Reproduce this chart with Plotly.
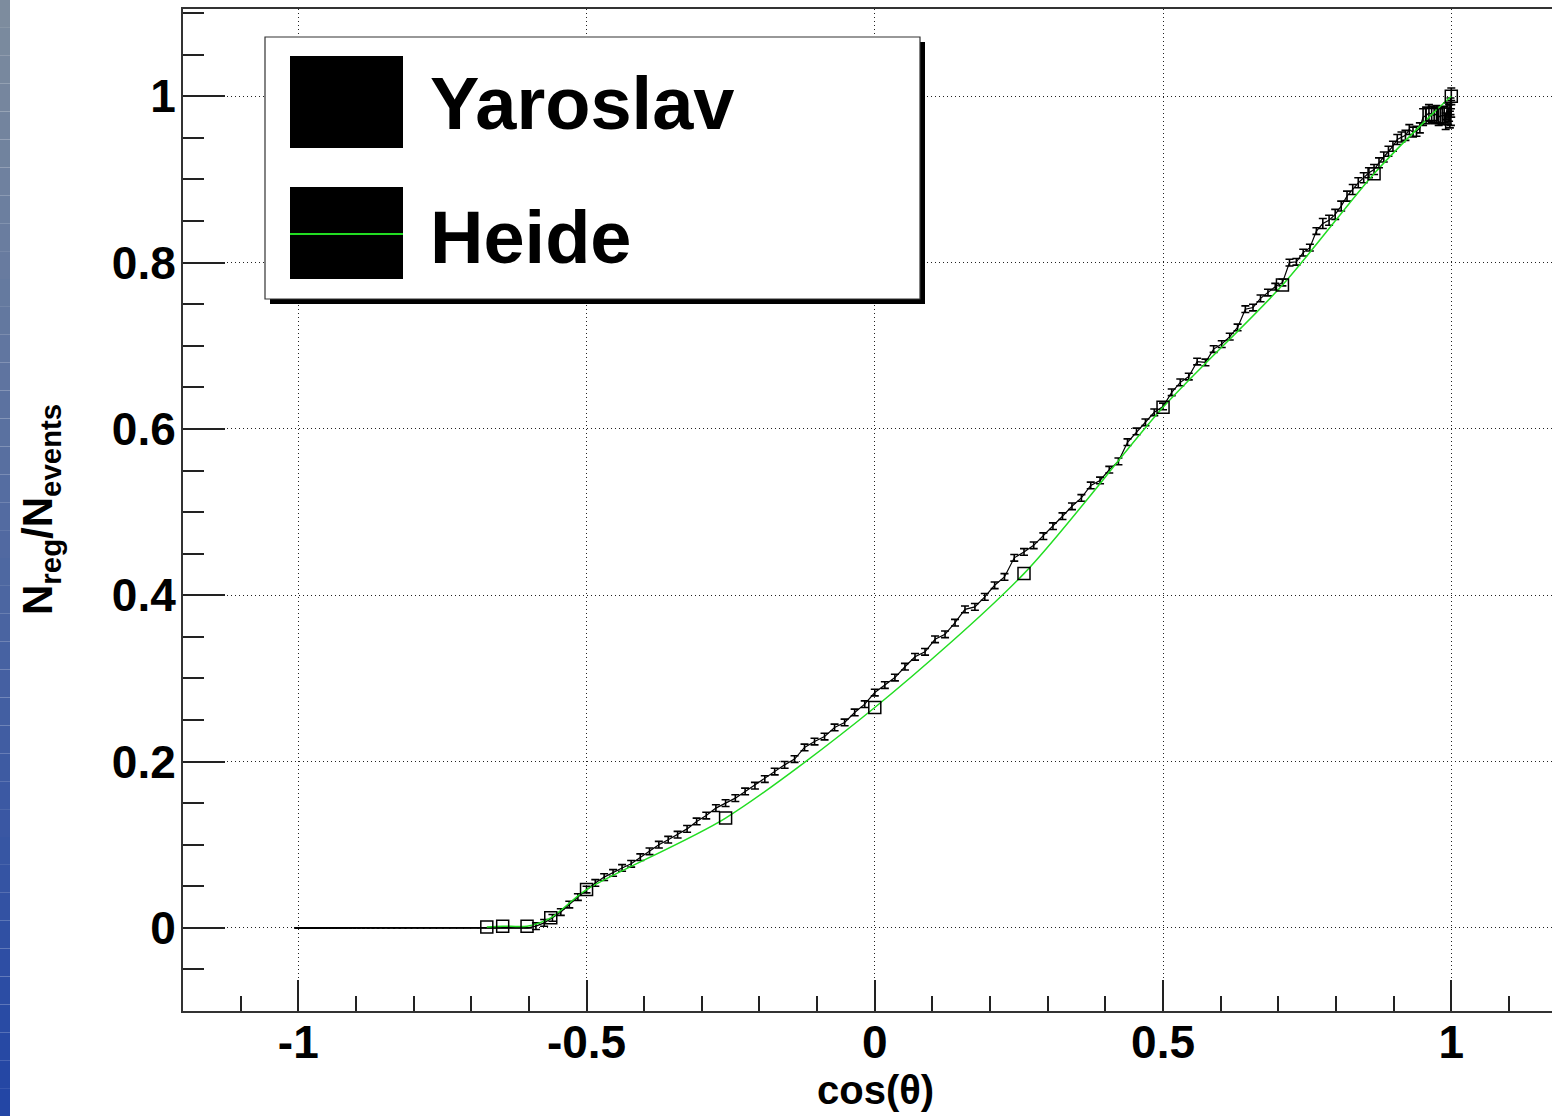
import numpy as np
import plotly.graph_objects as go

# ---------------- data ----------------
# Yaroslav: one point per degree of theta (0..180), y = N_reg/N_events
yar_theta_deg = list(range(0, 181))
yar_vals = [
    1.000, 0.985, 0.975, 0.988, 0.972, 0.980, 0.976, 0.982, 0.970, 0.978,   # 0-9
    0.976, 0.977, 0.975, 0.979, 0.977, 0.978, 0.980, 0.977, 0.975, 0.962,   # 10-19
    0.958, 0.957, 0.960, 0.953, 0.951, 0.948, 0.940, 0.934, 0.927, 0.920,   # 20-29
    0.912, 0.908, 0.902, 0.896, 0.888, 0.880, 0.868, 0.858, 0.851, 0.847,   # 30-39
    0.838, 0.818, 0.812, 0.801, 0.800, 0.776, 0.771, 0.764, 0.757, 0.746,   # 40-49
    0.744, 0.722, 0.711, 0.702, 0.696, 0.680, 0.681, 0.663, 0.656, 0.644,   # 50-59
    0.627, 0.620, 0.608, 0.597, 0.584, 0.561, 0.551, 0.538, 0.532, 0.517,   # 60-69
    0.507, 0.495, 0.483, 0.471, 0.460, 0.452, 0.445, 0.422, 0.412, 0.398,   # 70-79
    0.386, 0.383, 0.367, 0.353, 0.347, 0.332, 0.326, 0.314, 0.301, 0.292,   # 80-89
    0.283, 0.269, 0.259, 0.247, 0.241, 0.230, 0.224, 0.217, 0.203, 0.196,   # 90-99
    0.188, 0.179, 0.171, 0.164, 0.156, 0.150, 0.144, 0.135, 0.128, 0.119,   # 100-109
    0.112, 0.106, 0.100, 0.092, 0.085, 0.077, 0.072, 0.066, 0.061, 0.054,   # 110-119
    0.046, 0.037, 0.028, 0.019, 0.012, 0.006, 0.002,                        # 120-126
] + [0.0] * 54                                                               # 127-180
yar_err = [0.010] * 19 + [0.006] * 21 + [0.004] * 87 + [0.0] * 54

# Heide: sparse points (theta in degrees)
heide_theta_deg = [0, 15, 30, 45, 60, 75, 90, 105, 120, 124.2, 127.1, 130.2, 132.3]
heide_vals = [1.0, 0.978, 0.907, 0.773, 0.626, 0.426, 0.265, 0.132, 0.046, 0.012, 0.002, 0.002, 0.001]

x_tickvals = [-1, -0.5, 0, 0.5, 1]
x_ticktext = ["-1", "-0.5", "0", "0.5", "1"]
y_tickvals = [0, 0.2, 0.4, 0.6, 0.8, 1.0]
y_ticktext = ["0", "0.2", "0.4", "0.6", "0.8", "1"]

legend_names = ["Yaroslav", "Heide"]
x_title = "cos(θ)"
y_title = "N<sub>reg</sub>/N<sub>events</sub>"

yar_x = np.cos(np.radians(yar_theta_deg))
heide_x = np.cos(np.radians(heide_theta_deg))

# ---------------- layout geometry (pixels) ----------------
W, H = 1552, 1116
L, R, T, B = 183, 0, 9, 105
PW, PH = W - L - R, H - T - B

def px(x):
    return (x - L) / PW

def py(y):
    return (H - B - y) / PH

FONT = "Liberation Sans"

fig = go.Figure()

fig.add_trace(go.Scatter(
    x=yar_x, y=yar_vals, mode="lines",
    line=dict(color="black", width=1.2),
    error_y=dict(type="data", array=yar_err, color="black", thickness=1.6, width=4),
    name=legend_names[0], showlegend=False,
))
fig.add_trace(go.Scatter(
    x=heide_x, y=heide_vals, mode="lines",
    line=dict(color="#22dd22", width=1.5, shape="spline", smoothing=0.8),
    name=legend_names[1], showlegend=False,
))
fig.add_trace(go.Scatter(
    x=heide_x, y=heide_vals, mode="markers",
    marker=dict(symbol="square-open", color="black", size=12, line=dict(width=1.5, color="black")),
    showlegend=False, hoverinfo="skip",
))

shapes = []
# left blue gradient strip
nb = 40
for i in range(nb):
    t = i / (nb - 1)
    r = int(125 + (35 - 125) * t)
    g = int(140 + (70 - 140) * t)
    b = int(158 + (165 - 158) * t)
    shapes.append(dict(type="rect", xref="paper", yref="paper",
                       x0=px(0), x1=px(10), y0=py(H * (i + 1) / nb), y1=py(H * i / nb),
                       fillcolor=f"rgb({r},{g},{b})", line=dict(width=0), layer="above"))

# legend: shadow, box, colored squares
shapes.append(dict(type="rect", xref="paper", yref="paper", x0=px(270), x1=px(925), y0=py(304), y1=py(42),
                   fillcolor="black", line=dict(width=0), layer="above"))
shapes.append(dict(type="rect", xref="paper", yref="paper", x0=px(265), x1=px(920), y0=py(299), y1=py(37),
                   fillcolor="white", line=dict(width=1.2, color="#333"), layer="above"))
shapes.append(dict(type="rect", xref="paper", yref="paper", x0=px(290), x1=px(403), y0=py(148), y1=py(56),
                   fillcolor="black", line=dict(width=0), layer="above"))
shapes.append(dict(type="rect", xref="paper", yref="paper", x0=px(290), x1=px(403), y0=py(279), y1=py(187),
                   fillcolor="black", line=dict(width=0), layer="above"))
shapes.append(dict(type="line", xref="paper", yref="paper", x0=px(290), x1=px(403), y0=py(234), y1=py(234),
                   line=dict(width=2, color="#22dd22"), layer="above"))

annotations = [
    dict(text=legend_names[0], xref="paper", yref="paper", x=px(428), y=py(104), xanchor="left", yanchor="middle",
         showarrow=False, font=dict(family=FONT, size=74, color="black", weight="bold")),
    dict(text=legend_names[1], xref="paper", yref="paper", x=px(428), y=py(237), xanchor="left", yanchor="middle",
         showarrow=False, font=dict(family=FONT, size=74, color="black", weight="bold")),
    dict(text=x_title, xref="paper", yref="paper", x=px(875), y=py(1090), xanchor="center", yanchor="middle",
         showarrow=False, font=dict(family=FONT, size=40, color="black", weight="bold")),
    dict(text=y_title, xref="paper", yref="paper", x=px(40), y=py(510), xanchor="center", yanchor="middle",
         textangle=-90, showarrow=False, font=dict(family=FONT, size=42, color="black", weight="bold")),
]

fig.update_layout(
    width=W, height=H,
    margin=dict(l=L, r=R, t=T, b=B, autoexpand=False),
    paper_bgcolor="white", plot_bgcolor="white",
    shapes=shapes, annotations=annotations,
    showlegend=False,
    xaxis=dict(
        range=[-1.2, 1.1747], tickmode="array", tickvals=x_tickvals, ticktext=x_ticktext,
        ticks="inside", ticklen=31, tickwidth=1.5, tickcolor="#222",
        minor=dict(tickmode="linear", dtick=0.1, tick0=-1, ticks="inside", ticklen=15, tickwidth=1.5,
                   tickcolor="#222", showgrid=False),
        showgrid=True, gridcolor="#222", griddash="1px,3px", gridwidth=1,
        showline=True, linecolor="#333", linewidth=2, mirror=True,
        zeroline=False,
        tickfont=dict(family=FONT, size=46, color="black", weight="bold"),
        ticklabelstandoff=-10,
    ),
    yaxis=dict(
        range=[-0.1, 1.105], tickmode="array", tickvals=y_tickvals, ticktext=y_ticktext,
        ticks="inside", ticklen=42, tickwidth=1.5, tickcolor="#222",
        minor=dict(tickmode="linear", dtick=0.05, tick0=0, ticks="inside", ticklen=21, tickwidth=1.5,
                   tickcolor="#222", showgrid=False),
        showgrid=True, gridcolor="#222", griddash="1px,3px", gridwidth=1,
        showline=True, linecolor="#333", linewidth=2, mirror=False,
        zeroline=False,
        tickfont=dict(family=FONT, size=46, color="black", weight="bold"),
        ticklabelstandoff=-4,
    ),
)

fig.write_html("out.html", config={"displayModeBar": False},
               post_script="document.body.style.margin='0px';document.body.style.overflow='hidden';")
